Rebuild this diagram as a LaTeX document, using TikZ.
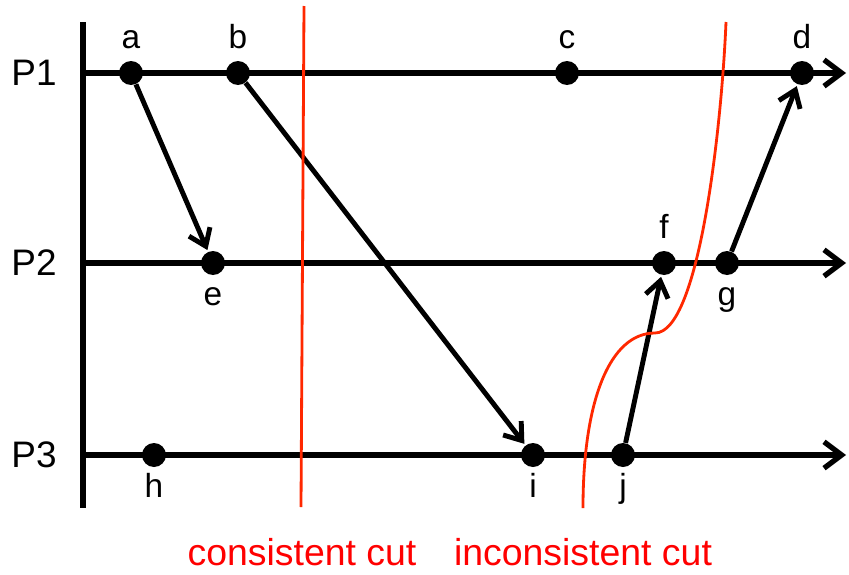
\documentclass[tikz,border=0pt]{standalone}
\usepackage{fontspec}
\setmainfont{Liberation Sans}
\usetikzlibrary{arrows.meta, positioning}
\definecolor{cutred}{RGB}{255,40,0}

\begin{document}
\begin{tikzpicture}[
    x=0.02cm, y=-0.02cm,
    node distance=0.12cm,
    event/.style={circle, fill=black, minimum size=0.48cm, inner sep=0pt},
    lbl/.style={inner sep=0pt, text height=13.5pt, text depth=3.5pt, font=\fontsize{19}{22}\selectfont},
    proc/.style={font=\fontsize{21}{25}\selectfont},
    axis/.style={line width=3.4pt},
    timeline/.style={-{Straight Barb[length=10pt, width=15pt]}, line width=3pt},
    msg/.style={-{Straight Barb[length=9pt, width=13pt]}, line width=2.8pt, shorten >=1pt},
    cut/.style={cutred, line width=1.6pt},
    cutlabel/.style={text=red, anchor=base, inner sep=0pt, font=\fontsize{21.3}{25}\selectfont}
]
\useasboundingbox (0,0) rectangle (849,575);

% process axis and time lines
\coordinate (top) at (83,22);
\coordinate (bottom) at (83,508);
\coordinate (s1) at (83,73);
\coordinate (e1) at (846,73);
\coordinate (s2) at (83,263);
\coordinate (e2) at (846,263);
\coordinate (s3) at (83,455);
\coordinate (e3) at (846,455);

\draw[axis] (top) -- (bottom);
\draw[timeline] (s1) -- (e1);
\draw[timeline] (s2) -- (e2);
\draw[timeline] (s3) -- (e3);

\node[proc] (P1) at (34,73) {P1};
\node[proc] (P2) at (34,263) {P2};
\node[proc] (P3) at (34,455) {P3};

% events
\node[event] (a) at (131,73) {};
\node[event] (b) at (238,73) {};
\node[event] (c) at (567,73) {};
\node[event] (d) at (802,73) {};
\node[event] (e) at (213,263) {};
\node[event] (f) at (664,263) {};
\node[event] (g) at (727,263) {};
\node[event] (h) at (154,455) {};
\node[event] (i) at (533,455) {};
\node[event] (j) at (623,455) {};

\node[lbl, above=of a] (la) {a};
\node[lbl, above=of b] (lb) {b};
\node[lbl, above=of c] (lc) {c};
\node[lbl, above=of d] (ld) {d};
\node[lbl, above=of f] (lf) {f};
\node[lbl, below=of e] (le) {e};
\node[lbl, below=of g] (lg) {g};
\node[lbl, below=of h] (lh) {h};
\node[lbl, below=of i] (li) {i};
\node[lbl, below=of j] (lj) {j};

% messages
\draw[msg] (a) -- (e);
\draw[msg] (b) -- (i);
\draw[msg] (j) -- (f);
\draw[msg] (g) -- (d);

% cuts
\draw[cut] (304,6) -- (301,507);
\draw[cut] (583,508) .. controls (583,400) and (610,333) .. (655,333)
    .. controls (700,333) and (722,120) .. (726,22);

\node[cutlabel] (cc) at (302,565) {consistent cut};
\node[cutlabel] (ic) at (583,565) {inconsistent cut};
\end{tikzpicture}
\end{document}
